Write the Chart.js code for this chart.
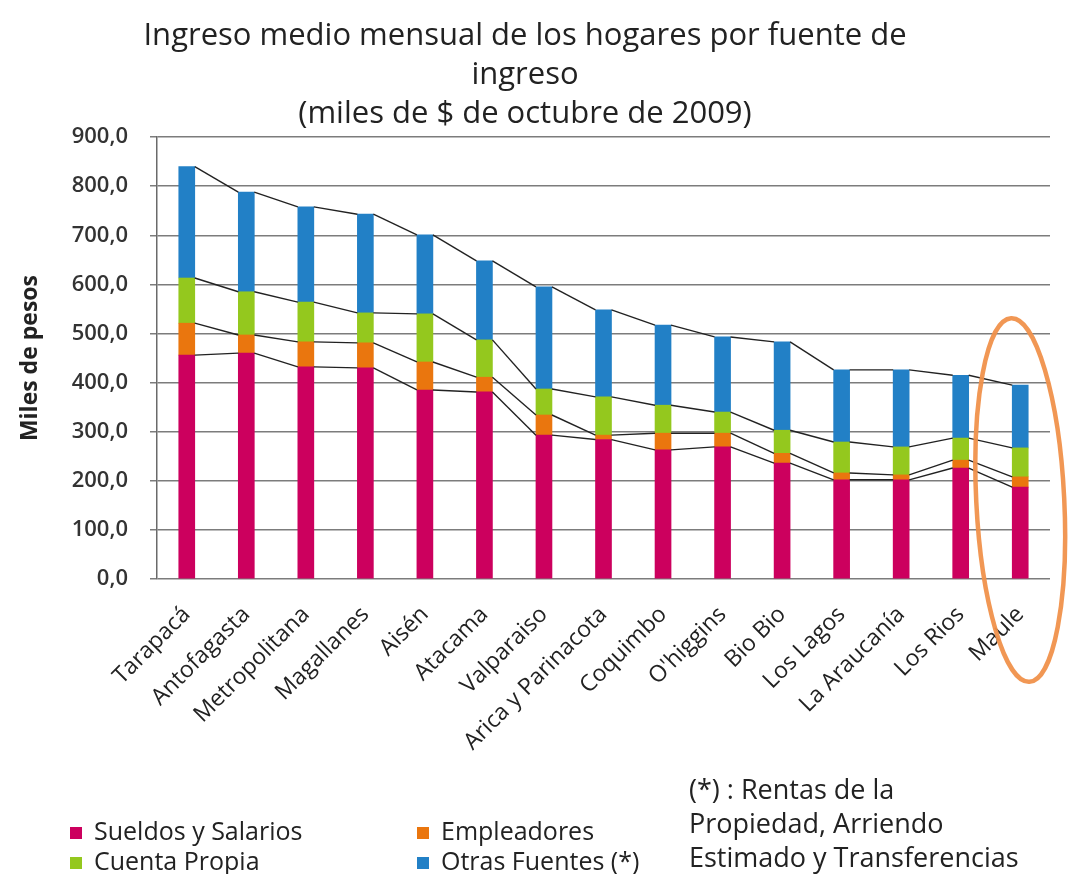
<!DOCTYPE html>
<html>
<head>
<meta charset="utf-8">
<script src="https://cdn.jsdelivr.net/npm/chart.js@4"></script>
<style>
  html, body { margin: 0; padding: 0; background: #fff; }
  #wrap { position: relative; width: 1068px; height: 874px; }
  #legend { position: absolute; left: 0; top: 0; width: 1068px; height: 874px; pointer-events: none;
    font-family: "Open Sans", sans-serif; color: #222; font-size: 25px; }
  .item { position: absolute; white-space: nowrap; line-height: 30px; }
  .item span.box { display: inline-block; width: 12px; height: 12px; margin-right: 12px; vertical-align: 1px; }
  .note { position: absolute; left: 689px; top: 772px; line-height: 34px; font-size: 27px; white-space: nowrap; }
</style>
</head>
<body>
<div id="wrap">
  <canvas id="myChart" width="1068" height="874"></canvas>
  <div id="legend"></div>
</div>
<script>
// regions, ordered by total income
const regions = ['Tarapacá', 'Antofagasta', 'Metropolitana', 'Magallanes', 'Aisén', 'Atacama',
  'Valparaiso', 'Arica y Parinacota', 'Coquimbo', "O'higgins", 'Bio Bio', 'Los Lagos',
  'La Araucanía', 'Los Rios', 'Maule'];

// miles de $ (oct 2009)
const sueldos      = [456, 460, 432, 430, 385, 381, 293, 284, 263, 269, 236, 202, 202, 226, 187];
const empleadores  = [ 65,  37,  51,  51,  57,  30,  41,   9,  34,  28,  20,  14,  10,  16,  21];
const cuentaPropia = [ 92,  88,  81,  61,  98,  76,  53,  78,  57,  43,  47,  63,  57,  45,  59];
const otrasFuentes = [227, 203, 194, 201, 161, 161, 208, 177, 163, 153, 180, 147, 157, 128, 128];

const seriesNames  = ['Sueldos y Salarios', 'Empleadores', 'Cuenta Propia', 'Otras Fuentes (*)'];
const seriesColors = ['#cc005e', '#ea760e', '#94c81e', '#2280c6'];

const yTicks = [0, 100, 200, 300, 400, 500, 600, 700, 800, 900];

const font = '"Open Sans", sans-serif';

// Excel style "series lines" joining the tops of the stacked segments
const seriesLines = {
  id: 'seriesLines',
  afterDatasetsDraw(chart) {
    const ctx = chart.ctx;
    ctx.save();
    ctx.strokeStyle = '#222';
    ctx.lineWidth = 1.4;
    chart.data.datasets.forEach((ds, i) => {
      const bars = chart.getDatasetMeta(i).data;
      for (let k = 0; k < bars.length - 1; k++) {
        const a = bars[k], b = bars[k + 1];
        ctx.beginPath();
        ctx.moveTo(a.x + a.width / 2, a.y);
        ctx.lineTo(b.x - b.width / 2, b.y);
        ctx.stroke();
      }
    });
    ctx.restore();
  }
};

// orange ring around the last region
const highlight = {
  id: 'highlight',
  afterDraw(chart) {
    const ctx = chart.ctx;
    const x = chart.scales.x.getPixelForValue(regions.length - 1);
    ctx.save();
    ctx.strokeStyle = 'rgba(240, 145, 75, 0.95)';
    ctx.lineWidth = 4.5;
    ctx.beginPath();
    ctx.ellipse(x, 500, 44, 182, -0.05, 0, Math.PI * 2);
    ctx.stroke();
    ctx.restore();
  }
};

const values = [sueldos, empleadores, cuentaPropia, otrasFuentes];

new Chart(document.getElementById('myChart'), {
  type: 'bar',
  data: {
    labels: regions,
    datasets: values.map((v, i) => ({
      label: seriesNames[i],
      data: v,
      backgroundColor: seriesColors[i],
      barThickness: 16,
    }))
  },
  options: {
    responsive: false,
    animation: false,
    layout: { padding: { top: 16, right: 18, bottom: 0, left: 0 } },
    plugins: {
      legend: { display: false },
      tooltip: { enabled: false },
      title: {
        display: true,
        text: ['Ingreso medio mensual de los hogares por fuente de', 'ingreso', '(miles de $ de octubre de 2009)'],
        color: '#222',
        font: { family: font, size: 31, weight: 'normal', lineHeight: 1.27 },
        padding: { top: 0, bottom: 3 }
      }
    },
    scales: {
      x: {
        stacked: true,
        grid: { display: false },
        border: { display: false },
        afterFit(axis) { axis.height = 874 - 579; },
        ticks: {
          minRotation: 45, maxRotation: 45, color: '#222', padding: 14,
          font: { family: font, size: 23 }
        }
      },
      y: {
        stacked: true,
        min: 0, max: 900,
        afterBuildTicks(axis) { axis.ticks = yTicks.map(v => ({ value: v })); },
        afterFit(axis) { axis.width = 157; },
        grid: { color: '#7c7c7c', lineWidth: 1.5, tickLength: 7 },
        border: { display: true, color: '#6a6a6a', width: 1.5 },
        ticks: {
          color: '#333', padding: 22,
          font: { family: font, size: 22, weight: 600 },
          callback: v => v.toFixed(1).replace('.', ',')
        },
        title: {
          display: true, text: 'Miles de pesos', color: '#222',
          font: { family: font, size: 23, weight: 'bold' },
          padding: { top: 17, bottom: 0 }
        }
      }
    }
  },
  plugins: [seriesLines, highlight]
});

// legend laid out like the original (two columns plus a footnote)
const legendPos = [[70, 815], [417, 815], [70, 845], [417, 845]];
const legend = document.getElementById('legend');
seriesNames.forEach((name, i) => {
  const d = document.createElement('div');
  d.className = 'item';
  d.style.left = legendPos[i][0] + 'px';
  d.style.top = legendPos[i][1] + 'px';
  d.innerHTML = '<span class="box" style="background:' + seriesColors[i] + '"></span>' + name;
  legend.appendChild(d);
});
const note = document.createElement('div');
note.className = 'note';
note.innerHTML = '(*) : Rentas de la<br>Propiedad, Arriendo<br>Estimado y Transferencias';
legend.appendChild(note);
</script>
</body>
</html>
